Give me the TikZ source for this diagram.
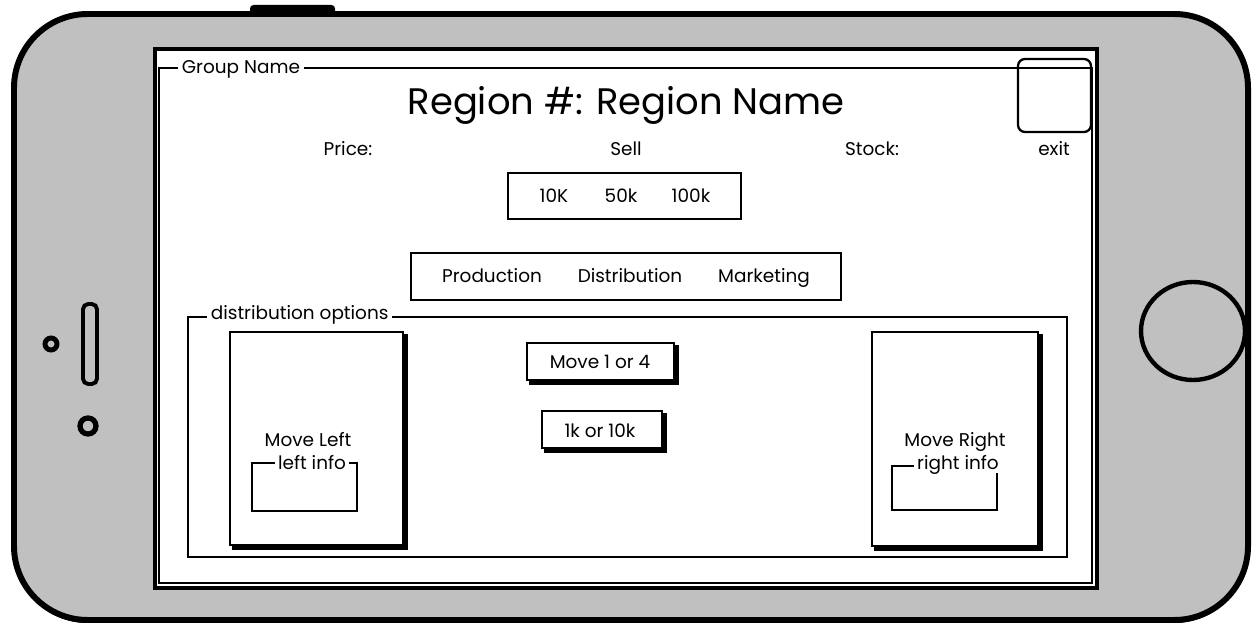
\documentclass[tikz,border=0pt]{standalone}
\usepackage{fontspec}
\setmainfont{Poppins}
\usetikzlibrary{shadows}

\definecolor{phonegray}{RGB}{192,192,192}

\tikzset{
  txt/.style={font=\fontsize{10.5}{12}\selectfont, inner sep=1pt,
    text height=0.72em, text depth=0.02em},
  fieldlabel/.style={txt, fill=white, inner sep=2pt},
  thinbox/.style={draw=black, line width=1.6pt},
  btnbox/.style={draw=black, fill=white, line width=1.6pt, inner sep=0pt,
    copy shadow={shadow xshift=1.8pt, shadow yshift=-1.8pt, fill=black, draw=black}},
}

\begin{document}
\begin{tikzpicture}[x=0.02cm, y=-0.02cm]

  % Fix the size of the page
  \useasboundingbox (0,0) rectangle (1257,628);

  % Define the unit for node sizes
  \def\u{0.02cm}

  % Top button of the phone
  \fill[rounded corners=2pt] (250,5) rectangle (335,18);

  % Phone body
  \draw[line width=3.4pt, fill=phonegray, rounded corners=42pt,
    copy shadow={shadow xshift=0pt, shadow yshift=-1.5pt, fill=black, draw=black}]
    (14,14) rectangle (1248,620);

  % Speaker, camera and sensor on the left
  \draw[line width=2.8pt] (51,344) circle (6);
  \draw[line width=2.2pt, rounded corners=3pt] (83,304) rectangle (97,384);
  \draw[line width=3pt] (88,426) circle (8);

  % Home button on the right
  \draw[line width=2.5pt] (1193,331) ellipse [x radius=52, y radius=49];

  % Screen
  \draw[line width=2.6pt, fill=white] (155,49) rectangle (1097,588);

  % Group box with its label
  \draw[line width=1.5pt] (159,68) rectangle (1092,583);
  \node[fieldlabel, anchor=west] (group) at (178,67) {Group Name};

  % Exit button
  \draw[line width=1.3pt, rounded corners=4pt] (1018,59) rectangle (1091,132);
  \node[txt] (exit) at (1054,149) {exit};

  % Title and top labels
  \node[font=\fontsize{21}{24}\selectfont] (title) at (626,105) {Region \#: Region Name};
  \node[txt] (price) at (348,149) {Price:};
  \node[txt] (sell) at (626,149) {Sell};
  \node[txt] (stock) at (872,149) {Stock:};

  % Amount selector
  \node[thinbox, minimum width=233*\u, minimum height=46*\u] (amounts) at (624.5,196) {};
  \node[txt] (a10) at (554,196) {10K};
  \node[txt] (a50) at (621,196) {50k};
  \node[txt] (a100) at (691,196) {100k};

  % Tabs
  \node[thinbox, minimum width=430*\u, minimum height=47*\u] (tabs) at (626,276.5) {};
  \node[txt] (prod) at (492,276) {Production};
  \node[txt] (dist) at (630,276) {Distribution};
  \node[txt] (mark) at (764,276) {Marketing};

  % Distribution options box with its label
  \draw[line width=1.5pt] (188,317) rectangle (1067,557);
  \node[fieldlabel, anchor=west] (options) at (207,313) {distribution options};

  % Left card
  \node[btnbox, minimum width=173*\u, minimum height=213*\u] (leftcard) at (316.5,438.5) {};
  \node[txt] (moveleft) at (308,440) {Move Left};
  \draw[line width=1.5pt] (252,463) rectangle (357,511);
  \node[fieldlabel] (leftinfo) at (312,463) {left info};

  % Right card
  \node[btnbox, minimum width=166*\u, minimum height=214*\u] (rightcard) at (955,439) {};
  \node[txt] (moveright) at (955,440) {Move Right};
  \draw[line width=1.5pt] (892,466) rectangle (997,510);
  \node[fieldlabel] (rightinfo) at (958,463) {right info};

  % Buttons in the middle
  \node[btnbox, minimum width=147*\u, minimum height=37*\u] (move) at (600.5,361.5) {};
  \node[txt] (movetxt) at (600,362) {Move 1 or 4};
  \node[btnbox, minimum width=120*\u, minimum height=37*\u] (amount) at (602,429.5) {};
  \node[txt] (amounttxt) at (600,431) {1k or 10k};

\end{tikzpicture}
\end{document}
